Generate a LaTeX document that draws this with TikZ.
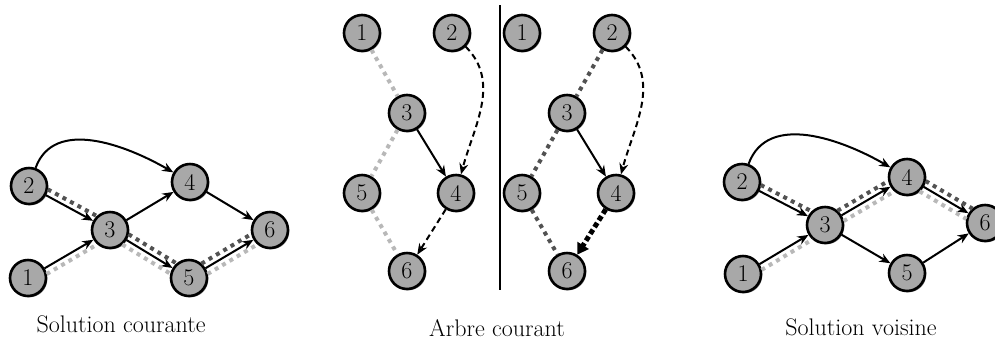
\documentclass[tikz,border=0pt]{standalone}
\usepackage{fontspec}
\usetikzlibrary{arrows.meta,calc,shadows}

% dotted path drawn beside the segment a--b, shifted by #4 to its left
\newcommand{\sidepath}[4]{%
  \draw[#1, shorten <=18pt, shorten >=18pt]
    ($(#2)!#4!90:(#3)$) -- ($(#3)!#4!-90:(#2)$);}

\begin{document}
\begin{tikzpicture}[x=1pt,y=-1pt,
  vertex/.style={circle, draw=black, line width=2.6pt, fill=black!34,
    minimum size=36pt, inner sep=0pt, font=\fontsize{24}{24}\selectfont,
    drop shadow={shadow xshift=1.3pt, shadow yshift=-1.3pt, fill=black!75, opacity=0.7}},
  arc/.style={line width=2pt, -{Stealth[length=11pt,width=9pt]}},
  dasharc/.style={line width=2pt, dash pattern=on 6pt off 4pt, -{Stealth[length=11pt,width=9pt]}},
  newarc/.style={line width=5pt, dash pattern=on 5pt off 3pt, -{Triangle[length=11pt,width=13pt]}},
  darkdots/.style={line width=4pt, dash pattern=on 4pt off 4.5pt, draw=black!68},
  lightdots/.style={line width=4pt, dash pattern=on 4pt off 4.5pt, draw=black!28},
  caption/.style={anchor=base, font=\fontsize{24}{28}\selectfont}
]
\useasboundingbox (0,0) rectangle (995,341);

% ---------- Solution courante ----------
\node[vertex] (L1) at (28,278) {1};
\node[vertex] (L2) at (29,186) {2};
\node[vertex] (L3) at (110,230) {3};
\node[vertex] (L4) at (190,182) {4};
\node[vertex] (L5) at (189,278) {5};
\node[vertex] (L6) at (270,230) {6};
\draw[arc] (L2) to[out=70, in=150] (L4);
\draw[arc] (L2) -- (L3);
\draw[arc] (L1) -- (L3);
\draw[arc] (L3) -- (L4);
\draw[arc] (L3) -- (L5);
\draw[arc] (L4) -- (L6);
\draw[arc] (L5) -- (L6);
\sidepath{darkdots}{L2}{L3}{6pt}
\sidepath{darkdots}{L3}{L5}{6pt}
\sidepath{darkdots}{L5}{L6}{6pt}
\sidepath{lightdots}{L1}{L3}{-6pt}
\sidepath{lightdots}{L3}{L5}{-6pt}
\sidepath{lightdots}{L5}{L6}{-6pt}
\node[caption] (capL) at (121,332) {Solution courante};

% ---------- Arbre courant (left tree) ----------
\node[vertex] (A1) at (362,33) {1};
\node[vertex] (A2) at (452,33) {2};
\node[vertex] (A3) at (407,113) {3};
\node[vertex] (A5) at (362,193) {5};
\node[vertex] (A4) at (456,193) {4};
\node[vertex] (A6) at (407,271) {6};
\draw[lightdots] (A1) -- (A3);
\draw[lightdots] (A3) -- (A5);
\draw[lightdots] (A5) -- (A6);
\draw[arc] (A3) -- (A4);
\draw[dasharc] (A2) to[out=-45, in=75] (A4);
\draw[dasharc] (A4) -- (A6);

% separator
\coordinate (septop) at (500,5);
\coordinate (sepbot) at (500,290);
\draw[line width=1.4pt] (septop) -- (sepbot);

% ---------- Arbre courant (right tree) ----------
\node[vertex] (B1) at (522,33) {1};
\node[vertex] (B2) at (612,33) {2};
\node[vertex] (B3) at (567,113) {3};
\node[vertex] (B5) at (522,193) {5};
\node[vertex] (B4) at (616,193) {4};
\node[vertex] (B6) at (567,271) {6};
\draw[darkdots] (B2) -- (B3);
\draw[darkdots] (B3) -- (B5);
\draw[darkdots] (B5) -- (B6);
\draw[arc] (B3) -- (B4);
\draw[dasharc] (B2) to[out=-45, in=75] (B4);
\draw[newarc] (B4) -- (B6);
\node[caption] (capM) at (497,336) {Arbre courant};

% ---------- Solution voisine ----------
\node[vertex] (R1) at (743,274) {1};
\node[vertex] (R2) at (742,182) {2};
\node[vertex] (R3) at (825,225) {3};
\node[vertex] (R4) at (907,177) {4};
\node[vertex] (R5) at (907,273) {5};
\node[vertex] (R6) at (985,223) {6};
\draw[arc] (R2) to[out=70, in=150] (R4);
\draw[arc] (R2) -- (R3);
\draw[arc] (R1) -- (R3);
\draw[arc] (R3) -- (R4);
\draw[arc] (R3) -- (R5);
\draw[arc] (R4) -- (R6);
\draw[arc] (R5) -- (R6);
\sidepath{darkdots}{R2}{R3}{6pt}
\sidepath{darkdots}{R3}{R4}{6pt}
\sidepath{darkdots}{R4}{R6}{6pt}
\sidepath{lightdots}{R1}{R3}{-6pt}
\sidepath{lightdots}{R3}{R4}{-6pt}
\sidepath{lightdots}{R4}{R6}{-6pt}
\node[caption] (capR) at (861,335) {Solution voisine};
\end{tikzpicture}
\end{document}
